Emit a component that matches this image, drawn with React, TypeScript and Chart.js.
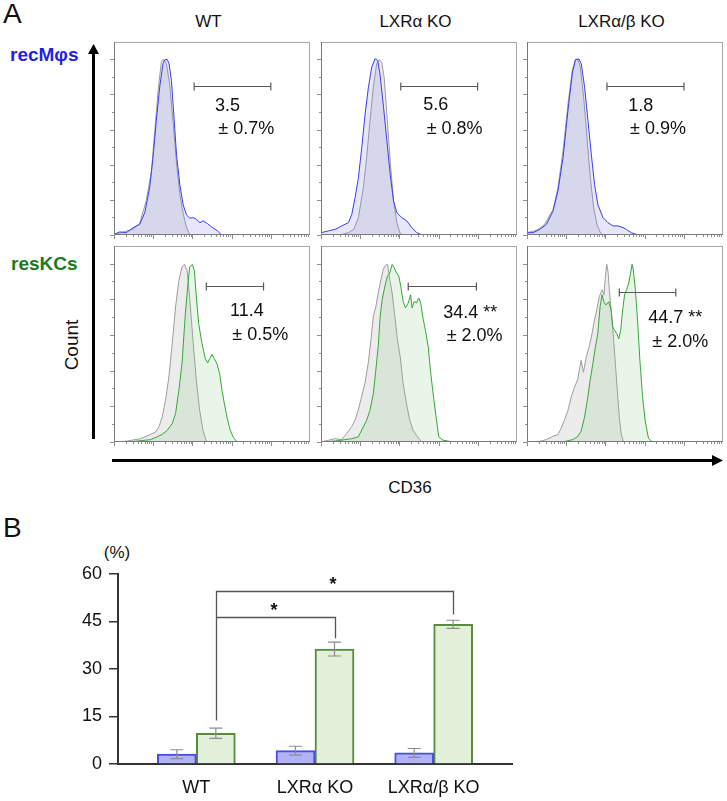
import React, { useEffect, useRef } from 'react';
import { Chart, registerables } from 'chart.js';

Chart.register(...registerables);

const FONT = '"Liberation Sans", Arial, Helvetica, sans-serif';
Chart.defaults.font.family = FONT;

// ---------------- Panel A labels ----------------
const GENOTYPES = ['WT', 'LXRα KO', 'LXRα/β KO'];
const CELL_TYPES = ['recMφs', 'resKCs'];

// ---------------- Panel A histogram curves (x: CD36 channel 0-100, y: % of max) ----------------
const WT_REC_GRAY_X = [0, 2.9, 9.7, 13.1, 16.5, 19.1, 20.8, 22.5, 24.2, 25, 26.7, 28.4, 30.2, 31.9, 33.6, 35.3, 37, 38.7];
const WT_REC_GRAY_Y = [0, 1, 3, 6, 18, 33, 54, 75, 90, 91, 89, 78, 58, 37, 21, 11, 4, 0];
const WT_REC_X = [0, 2.9, 6.3, 9.7, 13.1, 15.7, 18.2, 19.9, 21.6, 23.3, 25, 25.9, 27.1, 28.1, 29.3, 30.5, 31.9, 33.6, 35.3, 37, 38.7, 40.4, 42.1, 43.8, 45.5, 47.7, 50.3, 52.8, 54.9];
const WT_REC_Y = [0.3, 1.6, 1.2, 3.8, 5.5, 11.6, 24.6, 40.2, 59.3, 76.6, 88.7, 90.8, 91, 88.7, 80, 62.7, 41.6, 26, 15.6, 10.4, 8.7, 9, 8.1, 6.4, 7.3, 5.9, 3.8, 2.1, 0];

const AKO_REC_GRAY_X = [0, 10.6, 14, 16.7, 19.1, 21.6, 23.3, 25, 26.7, 28.4, 29.8, 31, 32.2, 33.6, 35.3, 37, 38.7, 40.4, 42.1];
const AKO_REC_GRAY_Y = [0, 0.3, 1.2, 2.9, 9, 24.6, 40.2, 59.3, 76.6, 88.7, 90.8, 89.6, 81.8, 62.7, 38.5, 17.7, 6.4, 0.7, 0];
const AKO_REC_X = [0, 3.7, 7.2, 10.6, 14, 15.7, 17.4, 19.1, 20.8, 22.5, 24.2, 25.9, 27.6, 28.9, 30.1, 31.9, 33.6, 35.3, 37, 38.7, 41.2, 43.8, 46.3, 48.9, 51.4];
const AKO_REC_Y = [1.2, 2.1, 2.9, 4.7, 6.4, 10.7, 19.4, 29.8, 45.4, 62.7, 76.6, 87, 91.3, 90.5, 83.5, 66.2, 48.9, 31.5, 17.7, 11.6, 9, 7.3, 3.8, 1.2, 0];

const ABKO_REC_GRAY_X = [0, 4.8, 9, 13.3, 15.8, 18.4, 20.9, 23.1, 24.7, 26, 27.2, 28.9, 30.6, 32.3, 34, 35.7, 37.4, 38.8];
const ABKO_REC_GRAY_Y = [1.2, 2.4, 5.5, 13.3, 24.6, 43.7, 67.9, 85.3, 90.8, 90.8, 87, 71.4, 50.6, 29.8, 14.2, 5.5, 1.2, 0];
const ABKO_REC_X = [0, 3.1, 6.5, 9.9, 13.3, 15.8, 18.4, 20.9, 23.1, 24.7, 26.4, 27.7, 29.4, 31.1, 32.8, 34.5, 36.2, 38.8, 41.3, 43.9, 46.4, 49, 50.7, 53.2, 55.8, 57.5];
const ABKO_REC_Y = [1.2, 1.2, 2.9, 5.5, 12.5, 22.9, 40.2, 64.5, 83.5, 90.8, 91.3, 88.7, 76.6, 59.3, 41.9, 26, 15.6, 9, 6.4, 4.7, 4.7, 3.8, 2.9, 1.2, 0.3, 0];

const WT_RES_GRAY_X = [0, 6.8, 13.6, 18.6, 21.2, 22.9, 24.6, 26.3, 28, 29.7, 31.4, 33.1, 34.7, 35.9, 37.3, 38.6, 40.3, 42, 43.7, 45.4, 47.1, 48.3];
const WT_RES_GRAY_Y = [0, 0.5, 1.7, 3.9, 5.1, 7.7, 12.8, 21.3, 33.2, 50.2, 68.9, 82.5, 89.3, 90.6, 87.6, 74, 51.9, 31.5, 16.2, 6, 0.5, 0];
const WT_RES_X = [0, 10.2, 18.6, 22, 24.6, 27.1, 29.7, 31.4, 33.1, 34.7, 36.4, 37.6, 38.6, 40, 41, 42, 43.2, 44.9, 46.6, 47.8, 48.8, 50, 51.2, 52.5, 53.9, 55.1, 56.3, 57.6, 59.3, 61, 62.7, 64.4];
const WT_RES_Y = [0, 0.3, 1.2, 2.6, 3.9, 5.9, 9.4, 14.5, 26.4, 40, 65.5, 79.1, 89.3, 90.6, 87.6, 74, 60.4, 50.2, 42.5, 40.3, 42.5, 44.7, 42.5, 40, 34.9, 26.4, 19.6, 12.8, 6, 2.2, 0.3, 0];

const AKO_RES_GRAY_X = [0, 3.7, 7.1, 10.5, 13.1, 15.6, 17.3, 19, 20.7, 22.4, 24.1, 25.5, 26.7, 28, 29.2, 30.6, 31.7, 32.9, 34, 35.1, 36.3, 37.7, 39, 40.4, 41.9, 43.6, 45.3, 47, 48.7, 50.4, 51.3];
const AKO_RES_GRAY_Y = [0, 0.9, 1.7, 1.2, 4.3, 7.7, 11.1, 16.2, 23.1, 29.9, 40.2, 52.1, 64.1, 69.2, 76, 82.9, 88, 90.1, 90.6, 82.9, 76, 64.1, 52.1, 43.6, 29.9, 19.7, 11.1, 6, 3.4, 1.2, 0];
const AKO_RES_X = [0, 7.1, 12.2, 15.6, 19, 21.6, 23.3, 25, 26.7, 27.8, 29.2, 30.2, 31.2, 32.6, 33.9, 35.1, 36.3, 37.4, 38.5, 39.7, 40.7, 41.9, 43.1, 44.5, 45.7, 46.5, 47.5, 48.7, 49.9, 50.9, 52.1, 53.3, 54.7, 56, 57.4, 58.7, 60.1, 62.3, 64.8, 66.6];
const AKO_RES_Y = [0, 0.5, 1.2, 1.7, 2.6, 7.7, 11.1, 16.2, 24.8, 35, 48.7, 64.1, 72.6, 79.5, 84.6, 86.3, 90.6, 88.9, 86.3, 84.6, 79.5, 71.8, 68.4, 70.9, 75.2, 68.4, 71.8, 70.9, 73.5, 70.9, 62.9, 56.9, 48.7, 35, 23.1, 12.8, 2.6, 0.9, 0.5, 0];

const ABKO_RES_GRAY_X = [0, 6.4, 9.8, 13.2, 15.8, 17.5, 19.2, 20.8, 22.5, 24.2, 25.9, 27.6, 28.8, 30.2, 31.9, 33.2, 34.4, 35.6, 36.9, 38.3, 39.3, 40, 40.7, 41.4, 42, 43.1, 44.1, 45.1, 46.1, 47.1, 48.1, 49.2, 50.5];
const ABKO_RES_GRAY_Y = [0, 0.3, 1.2, 2.9, 3.8, 7.2, 11.5, 15.8, 22.7, 27.8, 32.1, 41.6, 35.6, 43.3, 49.3, 55.3, 62.2, 67.4, 74.2, 77.7, 75.1, 84.7, 90.7, 86.3, 77.7, 65.6, 53.6, 39.9, 26.1, 12.4, 3.8, 0.3, 0];
const ABKO_RES_X = [0, 18.3, 20.8, 23.4, 25.9, 27.6, 29.3, 31, 32.2, 33.6, 34.9, 36.1, 37.3, 38.3, 39.2, 40.3, 41.7, 42.9, 43.7, 44.7, 45.8, 46.8, 47.8, 48.8, 49.8, 50.8, 51.9, 52.9, 53.6, 54.2, 55.3, 56.4, 57.6, 59, 60.3, 62, 63.7, 65.8];
const ABKO_RES_Y = [0, 0, 0.7, 1.2, 2.9, 5.5, 12.4, 22.7, 31.3, 39.9, 48.5, 55.3, 69.1, 75.1, 71.6, 69.9, 71.6, 67.4, 58.8, 57, 55.3, 52.6, 57, 67.4, 75.1, 77.7, 81.1, 86.3, 90.7, 88.1, 77.7, 62.2, 41.6, 22.7, 10.7, 1.8, 0.3, 0];

// gates (positive region) and their percentages, panel order: row by row
const GATE_START = [40.9, 40.7, 40.8, 47.1, 44.5, 47.1];
const GATE_END = [80, 79.9, 80.1, 76.3, 79.3, 75.9];
const GATE_LEVEL = [77, 77, 77, 79.4, 79.4, 76.4];
const GATE_VALUE = ['3.5', '5.6', '1.8', '11.4', '34.4 **', '44.7 **'];
const GATE_SD = ['± 0.7%', '± 0.8%', '± 0.9%', '± 0.5%', '± 2.0%', '± 2.0%'];

// ---------------- Panel B bar chart ----------------
const BAR_CATEGORIES = ['WT', 'LXRα KO', 'LXRα/β KO'];
const RECMPHI_MEAN = [3.1, 4.2, 3.5];
const RECMPHI_ERR = [1.4, 1.4, 1.4];
const RESKC_MEAN = [9.7, 36.3, 44.1];
const RESKC_ERR = [1.6, 2.2, 1.3];
const Y_TICKS = [0, 15, 30, 45, 60];
const SIG_FROM = [0, 0];
const SIG_TO = [2, 1];
const SIG_LEVEL = [54.6, 46.3];
const SIG_START_DROP = [13.7, 46.3];
const SIG_END_DROP = [47.2, 39.7];
const SIG_LABEL = ['*', '*'];

// ---------------- layout ----------------
const COL_LEFT = [114, 321, 527];
const BOX_W = 196;
const ROW_TOP = [42, 246];
const ROW_H = [193, 196];
const PAD = { left: 6, right: 1, top: 1, bottom: 6 };
const LABEL_POS = [
  [101, 63, 104.3, 86.3],
  [102.3, 61.7, 105.7, 86],
  [101.3, 63, 103, 86.3],
  [116, 64.3, 118.3, 87.7],
  [122.3, 65.7, 125.7, 89],
  [121.3, 70.7, 125.3, 94.8],
];

const pts = (xs: number[], ys: number[]) => xs.map((x, i) => ({ x, y: ys[i] }));

const PANELS = [
  { gray: pts(WT_REC_GRAY_X, WT_REC_GRAY_Y), sample: pts(WT_REC_X, WT_REC_Y) },
  { gray: pts(AKO_REC_GRAY_X, AKO_REC_GRAY_Y), sample: pts(AKO_REC_X, AKO_REC_Y) },
  { gray: pts(ABKO_REC_GRAY_X, ABKO_REC_GRAY_Y), sample: pts(ABKO_REC_X, ABKO_REC_Y) },
  { gray: pts(WT_RES_GRAY_X, WT_RES_GRAY_Y), sample: pts(WT_RES_X, WT_RES_Y) },
  { gray: pts(AKO_RES_GRAY_X, AKO_RES_GRAY_Y), sample: pts(AKO_RES_X, AKO_RES_Y) },
  { gray: pts(ABKO_RES_GRAY_X, ABKO_RES_GRAY_Y), sample: pts(ABKO_RES_X, ABKO_RES_Y) },
];

const ROW_STYLE = [
  { line: '#3b3bf2', fill: 'rgba(110,110,235,0.17)', label: '#1f1fe6' },
  { line: '#36a636', fill: 'rgba(120,195,120,0.17)', label: '#1c7a1c' },
];

const framePlugin = {
  id: 'frame',
  afterDatasetsDraw(chart: any, _args: any, opts: any) {
    const { ctx, chartArea: a } = chart;
    const xs = chart.scales.x;
    const ys = chart.scales.y;
    ctx.save();
    ctx.lineWidth = 1;
    ctx.strokeStyle = '#8f8f8f';
    ctx.beginPath();
    for (let d = 0; d < 100; d += 20) {
      for (let k = 1; k < 10; k++) {
        const px = Math.round(xs.getPixelForValue(d + 20 * Math.log10(k))) + 0.5;
        const len = k === 1 ? 4 : 2;
        ctx.moveTo(px, a.bottom);
        ctx.lineTo(px, a.bottom + len);
      }
    }
    for (let i = 0; i <= 10; i++) {
      const py = Math.round(ys.getPixelForValue(i * 9.1)) + 0.5;
      const len = i % 2 === 0 ? 4 : 2;
      ctx.moveTo(a.left, py);
      ctx.lineTo(a.left - len, py);
    }
    ctx.stroke();
    ctx.strokeStyle = '#a8a8a8';
    ctx.strokeRect(a.left + 0.5, a.top + 0.5, a.width - 1, a.height - 1);
    ctx.strokeStyle = '#7a7a7a';
    ctx.beginPath();
    ctx.moveTo(a.left + 0.5, a.top);
    ctx.lineTo(a.left + 0.5, a.bottom - 0.5);
    ctx.lineTo(a.right, a.bottom - 0.5);
    ctx.stroke();
    // gate
    const g = opts.gate;
    if (g) {
      const x0 = xs.getPixelForValue(g.x0);
      const x1 = xs.getPixelForValue(g.x1);
      const gy = Math.round(ys.getPixelForValue(g.y)) + 0.5;
      ctx.strokeStyle = '#595959';
      ctx.lineWidth = 1.2;
      ctx.beginPath();
      ctx.moveTo(x0, gy);
      ctx.lineTo(x1, gy);
      ctx.moveTo(x0, gy - 4);
      ctx.lineTo(x0, gy + 4);
      ctx.moveTo(x1, gy - 4);
      ctx.lineTo(x1, gy + 4);
      ctx.stroke();
    }
    ctx.restore();
  },
};

function Txt(props: any) {
  const { x, y, children, size, color = '#111', weight = 'normal', align = 'left', rotate = 0 } = props;
  const tx = align === 'center' ? '-50%' : align === 'right' ? '-100%' : '0';
  return (
    <div
      style={{
        position: 'absolute',
        left: x,
        top: y,
        transform: `translate(${tx},-50%) rotate(${rotate}deg)`,
        fontSize: size,
        lineHeight: 1,
        fontFamily: FONT,
        color,
        fontWeight: weight,
        whiteSpace: 'nowrap',
      }}
    >
      {children}
    </div>
  );
}

function Histogram({ idx }: { idx: number }) {
  const ref = useRef<HTMLCanvasElement>(null);
  const row = Math.floor(idx / 3);
  const col = idx % 3;
  const st = ROW_STYLE[row];
  const w = BOX_W + PAD.left + PAD.right;
  const h = ROW_H[row] + PAD.top + PAD.bottom;
  useEffect(() => {
    const p = PANELS[idx];
    const chart = new Chart(ref.current as HTMLCanvasElement, {
      type: 'line',
      data: {
        datasets: [
          {
            data: p.sample,
            borderColor: st.line,
            backgroundColor: st.fill,
            fill: 'origin',
            borderWidth: 1,
            pointRadius: 0,
            tension: 0,
          },
          {
            data: p.gray,
            borderColor: '#9c9c9c',
            backgroundColor: 'rgba(170,170,170,0.22)',
            fill: 'origin',
            borderWidth: 1,
            pointRadius: 0,
            tension: 0,
          },
        ],
      },
      options: {
        responsive: false,
        animation: false,
        events: [],
        layout: { padding: PAD },
        plugins: {
          legend: { display: false },
          tooltip: { enabled: false },
          frame: { gate: { x0: GATE_START[idx], x1: GATE_END[idx], y: GATE_LEVEL[idx] } },
        } as any,
        scales: {
          x: { type: 'linear', min: 0, max: 100, display: false },
          y: { min: 0, max: 100, display: false },
        },
      },
      plugins: [framePlugin],
    });
    return () => chart.destroy();
  }, []);
  const bx = COL_LEFT[col];
  const by = ROW_TOP[row];
  const lp = LABEL_POS[idx];
  return (
    <>
      <canvas
        ref={ref}
        width={w}
        height={h}
        style={{ position: 'absolute', left: bx - PAD.left, top: by - PAD.top, width: w, height: h }}
      />
      <Txt x={bx + lp[0]} y={by + lp[1]} size={18}>{GATE_VALUE[idx]}</Txt>
      <Txt x={bx + lp[2]} y={by + lp[3]} size={18}>{GATE_SD[idx]}</Txt>
    </>
  );
}

const errorBarPlugin = {
  id: 'errorBars',
  afterDatasetsDraw(chart: any) {
    const { ctx } = chart;
    const ys = chart.scales.y;
    ctx.save();
    ctx.strokeStyle = '#8c8c8c';
    ctx.lineWidth = 1.2;
    chart.data.datasets.forEach((ds: any, di: number) => {
      const meta = chart.getDatasetMeta(di);
      meta.data.forEach((bar: any, i: number) => {
        const v = ds.data[i].y;
        const e = ds.errors[i];
        const t = ys.getPixelForValue(v + e);
        const b = ys.getPixelForValue(v - e);
        ctx.beginPath();
        ctx.moveTo(bar.x, t);
        ctx.lineTo(bar.x, b);
        ctx.moveTo(bar.x - 6.5, t);
        ctx.lineTo(bar.x + 6.5, t);
        ctx.moveTo(bar.x - 6.5, b);
        ctx.lineTo(bar.x + 6.5, b);
        ctx.stroke();
      });
    });
    ctx.restore();
  },
};

const bracketPlugin = {
  id: 'brackets',
  afterDatasetsDraw(chart: any) {
    const { ctx } = chart;
    const ys = chart.scales.y;
    const bars = chart.getDatasetMeta(1).data;
    ctx.save();
    ctx.strokeStyle = '#555';
    ctx.lineWidth = 1.3;
    ctx.fillStyle = '#111';
    ctx.font = `bold 18px ${FONT}`;
    ctx.textAlign = 'center';
    ctx.textBaseline = 'alphabetic';
    SIG_FROM.forEach((f, k) => {
      const x0 = Math.round(bars[f].x) + 0.5;
      const x1 = Math.round(bars[SIG_TO[k]].x) + 0.5;
      const yl = Math.round(ys.getPixelForValue(SIG_LEVEL[k])) + 0.5;
      ctx.beginPath();
      ctx.moveTo(x0, ys.getPixelForValue(SIG_START_DROP[k]));
      ctx.lineTo(x0, yl);
      ctx.lineTo(x1, yl);
      ctx.lineTo(x1, ys.getPixelForValue(SIG_END_DROP[k]));
      ctx.stroke();
      ctx.fillText(SIG_LABEL[k], (x0 + x1) / 2 - 2, yl - 2);
    });
    ctx.restore();
  },
};

function BarChart() {
  const ref = useRef<HTMLCanvasElement>(null);
  useEffect(() => {
    const chart = new Chart(ref.current as HTMLCanvasElement, {
      type: 'bar',
      data: {
        datasets: [
          {
            label: CELL_TYPES[0],
            data: RECMPHI_MEAN.map((v, i) => ({ x: i + 1, y: v })),
            errors: RECMPHI_ERR,
            backgroundColor: '#b2b2f7',
            borderColor: '#4b4be8',
            borderWidth: 2,
            barThickness: 39,
          } as any,
          {
            label: CELL_TYPES[1],
            data: RESKC_MEAN.map((v, i) => ({ x: i + 1, y: v })),
            errors: RESKC_ERR,
            backgroundColor: '#e2efd9',
            borderColor: '#5a8a3c',
            borderWidth: 2,
            barThickness: 39,
          } as any,
        ],
      },
      options: {
        responsive: false,
        animation: false,
        events: [],
        layout: { padding: { left: 0, right: 28, top: 34, bottom: 0 } },
        plugins: { legend: { display: false }, tooltip: { enabled: false } },
        scales: {
          x: {
            type: 'linear',
            offset: false,
            min: 0.34,
            max: 3.66,
            afterBuildTicks: (s: any) => {
              s.ticks = BAR_CATEGORIES.map((_, i) => ({ value: i + 1 }));
            },
            afterFit: (s: any) => {
              s.height = 36;
            },
            ticks: {
              callback: (v: any) => BAR_CATEGORIES[Math.round(v) - 1],
              font: { size: 18, family: FONT },
              color: '#111',
              padding: 13,
              maxRotation: 0,
              autoSkip: false,
            },
            grid: { display: false, drawTicks: false },
            border: { display: true, color: '#333', width: 2 },
          } as any,
          y: {
            min: 0,
            max: 60,
            afterBuildTicks: (s: any) => {
              s.ticks = Y_TICKS.map((v) => ({ value: v }));
            },
            afterFit: (s: any) => {
              s.width = 78;
            },
            ticks: { font: { size: 18, family: FONT }, color: '#111', padding: 7 },
            grid: { drawOnChartArea: false, drawTicks: true, tickLength: 9, color: '#333', lineWidth: 1.5 },
            border: { display: true, color: '#333', width: 2 },
          } as any,
        },
      },
      plugins: [errorBarPlugin, bracketPlugin],
    });
    return () => chart.destroy();
  }, []);
  return (
    <canvas ref={ref} width={500} height={260} style={{ position: 'absolute', left: 40, top: 540, width: 500, height: 260 }} />
  );
}

export default function App() {
  return (
    <div style={{ position: 'absolute', left: 0, top: 0, width: 727, height: 801, background: '#fff', overflow: 'hidden' }}>
      <Txt x={3} y={13.5} size={28}>A</Txt>
      <Txt x={208.5} y={21.2} size={17} align="center">{GENOTYPES[0]}</Txt>
      <Txt x={415.5} y={21.2} size={17} align="center">{GENOTYPES[1]}</Txt>
      <Txt x={621.5} y={21.2} size={17} align="center">{GENOTYPES[2]}</Txt>
      <Txt x={10} y={53.5} size={19} weight="bold" color={ROW_STYLE[0].label}>{CELL_TYPES[0]}</Txt>
      <Txt x={11} y={263.4} size={19} weight="bold" color={ROW_STYLE[1].label}>{CELL_TYPES[1]}</Txt>
      <Txt x={71} y={345} size={19} align="center" rotate={-90}>Count</Txt>
      <Txt x={410} y={487} size={17} align="center">CD36</Txt>
      <svg width={727} height={801} style={{ position: 'absolute', left: 0, top: 0 }}>
        <line x1={93.5} y1={439} x2={93.5} y2={52} stroke="#000" strokeWidth={3} />
        <polygon points="88,54 99,54 93.5,44" fill="#000" />
        <line x1={112} y1={460.5} x2={714} y2={460.5} stroke="#000" strokeWidth={3} />
        <polygon points="712,455 712,466 723,460.5" fill="#000" />
      </svg>
      {PANELS.map((_, i) => (
        <Histogram key={i} idx={i} />
      ))}
      <Txt x={3} y={528} size={28}>B</Txt>
      <Txt x={117} y={552} size={17} align="center">(%)</Txt>
      <BarChart />
    </div>
  );
}
